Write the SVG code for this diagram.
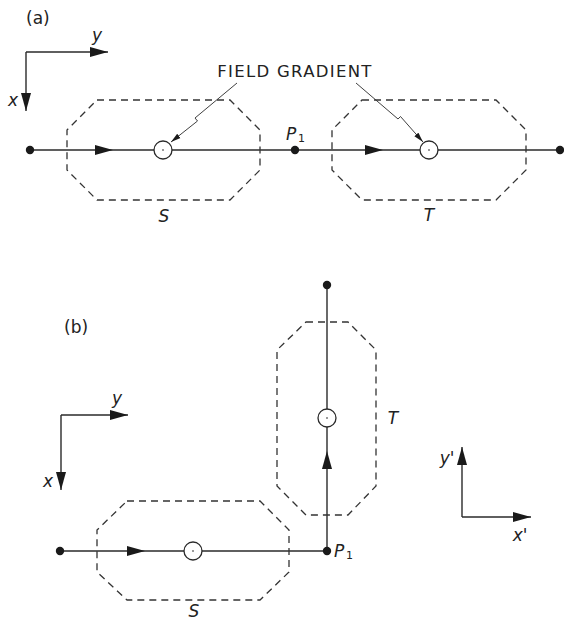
<svg xmlns="http://www.w3.org/2000/svg" width="564" height="621" viewBox="0 0 564 621">
<defs>
<style>
.ln{stroke:#2a2a2a;stroke-width:1.4;fill:none}
.thin{stroke:#2a2a2a;stroke-width:0.9;fill:none}
.oct{stroke:#333;stroke-width:1.3;fill:none;stroke-dasharray:7 5}
.dot{fill:#1a1a1a}
.ah{fill:#1a1a1a}
.circ{stroke:#2a2a2a;stroke-width:1.3;fill:#fff}
.t{font-family:"DejaVu Sans",sans-serif;fill:#222}
.it{font-family:"DejaVu Sans",sans-serif;font-style:italic;fill:#222;font-size:17px}
</style>
<marker id="ax" markerUnits="userSpaceOnUse" markerWidth="19" markerHeight="11" viewBox="0 0 19 11" refX="18" refY="5.5" orient="auto">
<path d="M0,0.5 L18,5.5 L0,10.5 z" fill="#1a1a1a"/>
</marker>
<marker id="sm" markerUnits="userSpaceOnUse" markerWidth="10" markerHeight="7" viewBox="0 0 10 7" refX="10" refY="3.5" orient="auto">
<path d="M0,0.8 L10,3.5 L0,6.2 z" fill="#1a1a1a"/>
</marker>
</defs>

<g id="label-a"><text class="t" x="26" y="24" font-size="17">(a)</text></g>
<g id="label-b"><text class="t" x="64" y="333" font-size="17">(b)</text></g>

<g id="axes-a">
<path class="ln" d="M26,52 H108" marker-end="url(#ax)"/>
<path class="ln" d="M26,52 V111" marker-end="url(#ax)"/>
<text class="it" x="97" y="41" text-anchor="middle">y</text>
<text class="it" x="13" y="106" text-anchor="middle">x</text>
</g>

<g id="axes-b">
<path class="ln" d="M61,415 H128" marker-end="url(#ax)"/>
<path class="ln" d="M61,415 V490" marker-end="url(#ax)"/>
<text class="it" x="117" y="404" text-anchor="middle">y</text>
<text class="it" x="48" y="487" text-anchor="middle">x</text>
</g>

<g id="axes-prime">
<path class="ln" d="M462,517 V447" marker-end="url(#ax)"/>
<path class="ln" d="M462,517 H531" marker-end="url(#ax)"/>
<text class="it" x="447" y="464" text-anchor="middle">y'</text>
<text class="it" x="520" y="541" text-anchor="middle">x'</text>
</g>

<g id="connectors">
<line class="ln" x1="30" y1="150" x2="560" y2="150"/>
<polygon class="ah" points="113,150 95,145 95,155"/>
<polygon class="ah" points="383,150 365,145 365,155"/>
<line class="ln" x1="60" y1="551" x2="327" y2="551"/>
<line class="ln" x1="327" y1="551" x2="327" y2="285"/>
<polygon class="ah" points="145,551 127,546 127,556"/>
<polygon class="ah" points="327,451 322,469 332,469"/>
<path class="thin" d="M237,83 L195,118 L197.5,121 L171,142" marker-end="url(#sm)"/>
<path class="thin" d="M356,83 L398,119 L400.5,116.5 L423,142" marker-end="url(#sm)"/>
</g>

<g id="S-a">
<polygon class="oct" points="97,100 230,100 260,130 260,170 230,200 97,200 67,170 67,130"/>
<circle class="circ" cx="163" cy="150" r="9"/>
<circle class="dot" cx="163" cy="150" r="0.8"/>
<text class="it" x="164" y="222" text-anchor="middle">S</text>
</g>

<g id="T-a">
<polygon class="oct" points="362,100 496,100 526,130 526,170 496,200 362,200 332,170 332,130"/>
<circle class="circ" cx="429" cy="150" r="9"/>
<circle class="dot" cx="429" cy="150" r="0.8"/>
<text class="it" x="429" y="221" text-anchor="middle">T</text>
</g>

<g id="points-a">
<circle class="dot" cx="30" cy="150" r="4.2"/>
<circle class="dot" cx="295" cy="150" r="4.2"/>
<circle class="dot" cx="560" cy="150" r="4.2"/>
<text class="it" x="286" y="140">P</text>
<text class="t" x="298" y="142" font-size="11">1</text>
</g>

<g id="field-gradient">
<text class="t" x="295" y="77" font-size="16.5" letter-spacing="1.3" text-anchor="middle">FIELD GRADIENT</text>
</g>

<g id="S-b">
<polygon class="oct" points="127,501 260,501 289,530 289,572 260,600 127,600 97,572 97,530"/>
<circle class="circ" cx="193" cy="551" r="9"/>
<circle class="dot" cx="193" cy="551" r="0.8"/>
<text class="it" x="194" y="617" text-anchor="middle">S</text>
</g>

<g id="T-b">
<polygon class="oct" points="306,322 348,322 376,350 376,486 348,515 306,515 277,486 277,350"/>
<circle class="circ" cx="327" cy="418" r="9"/>
<circle class="dot" cx="327" cy="418" r="0.8"/>
<text class="it" x="393" y="424" text-anchor="middle">T</text>
</g>

<g id="points-b">
<circle class="dot" cx="60" cy="551" r="4.2"/>
<circle class="dot" cx="327" cy="551" r="4.2"/>
<circle class="dot" cx="327" cy="285" r="4.2"/>
<text class="it" x="334" y="557">P</text>
<text class="t" x="346" y="559" font-size="11">1</text>
</g>
</svg>
